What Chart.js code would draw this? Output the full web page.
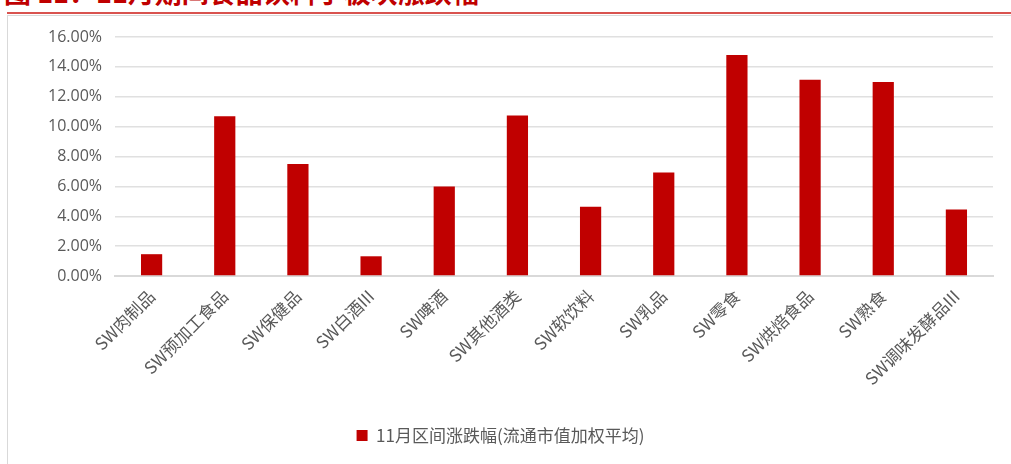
<!DOCTYPE html>
<html>
<head>
<meta charset="utf-8">
<script src="https://cdn.jsdelivr.net/npm/chart.js@4"></script>
<style>
  html, body { margin: 0; padding: 0; background: #fff; }
  #wrap { position: relative; width: 1011px; height: 464px; overflow: hidden; }
  #title {
    position: absolute; left: 4px; top: -28px;
    font: bold 27px "Noto Sans CJK SC", sans-serif; color: #c00000;
    white-space: nowrap;
  }
  #redline { position: absolute; left: 7px; right: 0; top: 12px; height: 2px; background: #d9534f; }
  #frame { position: absolute; left: 7px; right: -2px; top: 15px; bottom: -2px; border: 1px solid #d9d9d9; }
  #chart { position: absolute; left: 0; top: 0; }
</style>
</head>
<body>
<div id="wrap">
  <div id="title">图 11：11月期间食品饮料子板块涨跌幅</div>
  <div id="redline"></div>
  <div id="frame"></div>
  <canvas id="chart" width="1011" height="464"></canvas>
</div>
<script>
// 行业分类
const categories = ['SW肉制品', 'SW预加工食品', 'SW保健品', 'SW白酒III', 'SW啤酒', 'SW其他酒类',
                    'SW软饮料', 'SW乳品', 'SW零食', 'SW烘焙食品', 'SW熟食', 'SW调味发酵品III'];
// 11月区间涨跌幅 (%)
const changes = [1.46, 10.69, 7.50, 1.32, 6.00, 10.74, 4.63, 6.93, 14.79, 13.13, 12.98, 4.45];
const seriesName = '11月区间涨跌幅(流通市值加权平均)';
const yTicks = [0, 2, 4, 6, 8, 10, 12, 14, 16];

const ctx = document.getElementById('chart').getContext('2d');
new Chart(ctx, {
    type: 'bar',
    data: {
        labels: categories,
        datasets: [{
            label: seriesName,
            data: changes,
            backgroundColor: '#c00000',
            borderWidth: 0,
            barPercentage: 0.58,
            categoryPercentage: 0.5
        }]
    },
    options: {
        responsive: false,
        animation: false,
        layout: { padding: { left: 8, right: 18, top: 37, bottom: 10 } },
        plugins: {
            tooltip: { enabled: false },
            legend: {
                position: 'bottom',
                labels: {
                    boxWidth: 11,
                    boxHeight: 11,
                    color: '#595959',
                    padding: 10,
                    font: { size: 17, family: '"Noto Sans CJK SC", sans-serif' }
                }
            }
        },
        scales: {
            x: {
                grid: { display: false, drawTicks: false },
                border: { color: '#d9d9d9', width: 2 },
                ticks: {
                    minRotation: 45,
                    maxRotation: 45,
                    autoSkip: false,
                    padding: 10,
                    color: '#595959',
                    font: { size: 17, family: '"Noto Sans CJK SC", sans-serif' }
                },
                afterFit: function(axis) { axis.height = 141; }
            },
            y: {
                min: 0,
                max: 16,
                afterBuildTicks: function(axis) { axis.ticks = yTicks.map(v => ({ value: v })); },
                grid: { color: '#e0e0e0', lineWidth: 1.5, drawTicks: false },
                border: { display: false },
                ticks: {
                    padding: 13,
                    color: '#595959',
                    font: { size: 16, family: '"Open Sans", sans-serif' },
                    callback: function(v) { return v.toFixed(2) + '%'; }
                },
                afterFit: function(axis) { axis.width = 107; }
            }
        }
    }
});
</script>
</body>
</html>
